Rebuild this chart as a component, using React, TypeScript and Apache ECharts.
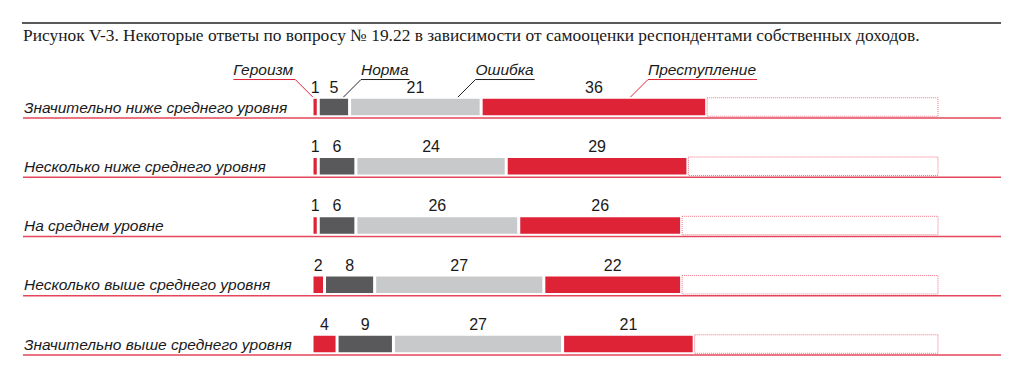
import React, { useEffect, useRef } from "react";
import * as echarts from "echarts";

const titleText =
  "Рисунок V-3. Некоторые ответы по вопросу № 19.22 в зависимости от самооценки респондентами собственных доходов.";
const categories = [
  "Значительно ниже среднего уровня",
  "Несколько ниже среднего уровня",
  "На среднем уровне",
  "Несколько выше среднего уровня",
  "Значительно выше среднего уровня",
];
const seriesNames = ["Героизм", "Норма", "Ошибка", "Преступление"];
const heroism = [1, 1, 1, 2, 4];
const norm = [5, 6, 6, 8, 9];
const mistake = [21, 24, 26, 27, 27];
const crime = [36, 29, 26, 22, 21];
const total = 100;

const RED = "#df2337";
const DARK = "#59595b";
const LIGHT = "#c8c9cb";
const LINE_RED = "#e4465a";
const SANS = "Liberation Sans";

// annotation layout: where on the first-row segment the leader line points, and which side the text sits
const annot = [
  { frac: 0.2, dir: 1, color: RED },
  { frac: 0.79, dir: -1, color: "#222" },
  { frac: 0.82, dir: -1, color: "#222" },
  { frac: 0.66, dir: -1, color: RED },
];

function measure(text: string, font: string): number {
  const c = document.createElement("canvas").getContext("2d");
  if (!c) return text.length * 8;
  c.font = font;
  return c.measureText(text).width;
}

export default function App() {
  const ref = useRef<HTMLDivElement>(null);
  useEffect(() => {
    if (!ref.current) return;
    const chart = echarts.init(ref.current, undefined, { renderer: "svg" });
    const all = [heroism, norm, mistake, crime];
    const remainder = categories.map(
      (_, i) => total - heroism[i] - norm[i] - mistake[i] - crime[i]
    );
    const colors = [RED, DARK, LIGHT, RED];
    const barW = 19.5;
    const series: any[] = all.map((d, k) => ({
      type: "bar",
      name: seriesNames[k],
      stack: "s",
      data: d,
      barWidth: barW,
      itemStyle: { color: colors[k], borderColor: "#ffffff", borderWidth: 1.5 },
      label: {
        show: true,
        position: "top",
        distance: 2,
        fontSize: 16,
        fontFamily: SANS,
        color: "#1a1a1a",
      },
    }));
    series.push({
      type: "bar",
      name: "rest",
      stack: "s",
      data: remainder,
      barWidth: barW - 2,
      itemStyle: {
        color: "#ffffff",
        borderColor: "#ee7383",
        borderWidth: 1,
        borderType: "dotted",
      },
    });
    const option: any = {
      animation: false,
      grid: { left: 312, right: 85.5, top: 77.4, height: 296.25 },
      xAxis: { type: "value", min: 0, max: total, show: false },
      yAxis: {
        type: "category",
        inverse: true,
        data: categories,
        axisLine: { show: false },
        axisTick: { show: false },
        splitLine: { show: false },
        axisLabel: {
          align: "left",
          margin: 288,
          fontSize: 15.5,
          fontStyle: "italic",
          fontFamily: SANS,
          color: "#1a1a1a",
        },
      },
      series,
    };
    chart.setOption(option);

    const graphics: any[] = [];
    graphics.push({
      type: "line",
      shape: { x1: 22, y1: 23, x2: 1001, y2: 23 },
      style: { stroke: "#222", lineWidth: 1.5 },
    });
    graphics.push({
      type: "text",
      x: 23,
      y: 35,
      style: {
        text: titleText,
        fontSize: 17.4,
        fontFamily: "Liberation Serif",
        fill: "#1a1a1a",
        textVerticalAlign: "middle",
      },
    });
    categories.forEach((c, i) => {
      const cy = chart.convertToPixel({ yAxisIndex: 0 }, c) as number;
      const y = cy + 11;
      graphics.push({
        type: "line",
        shape: { x1: 23, y1: y, x2: 1001, y2: y },
        style: { stroke: LINE_RED, lineWidth: 1.5 },
      });
    });
    const cy0 = chart.convertToPixel({ yAxisIndex: 0 }, categories[0]) as number;
    const anchorY = cy0 - 9.5;
    const font = `italic 15.5px "${SANS}"`;
    let start = 0;
    all.forEach((d, k) => {
      const a = annot[k];
      const v = start + a.frac * d[0];
      start += d[0];
      const ax = chart.convertToPixel({ xAxisIndex: 0 }, v) as number;
      const uy = anchorY - 18;
      const kx = ax - a.dir * 18;
      const w = measure(seriesNames[k], font);
      const ux1 = a.dir > 0 ? kx - w - 2 : kx;
      const ux2 = a.dir > 0 ? kx : kx + w + 1;
      graphics.push({
        type: "polyline",
        shape: {
          points: a.dir > 0 ? [[ux1, uy], [ux2, uy], [ax, anchorY]] : [[ux2, uy], [ux1, uy], [ax, anchorY]],
        },
        style: { stroke: a.color, lineWidth: 1, fill: "none" },
      });
      graphics.push({
        type: "text",
        x: a.dir > 0 ? ux2 - 2 : ux1,
        y: uy - 2,
        style: {
          text: seriesNames[k],
          fontSize: 15.5,
          fontStyle: "italic",
          fontFamily: SANS,
          fill: "#1a1a1a",
          textAlign: a.dir > 0 ? "right" : "left",
          textVerticalAlign: "bottom",
        },
      });
    });
    chart.setOption({ graphic: { elements: graphics } });
    return () => chart.dispose();
  }, []);
  return (
    <div
      ref={ref}
      style={{ position: "fixed", left: 0, top: 0, width: 1024, height: 379, background: "#fff" }}
    />
  );
}
